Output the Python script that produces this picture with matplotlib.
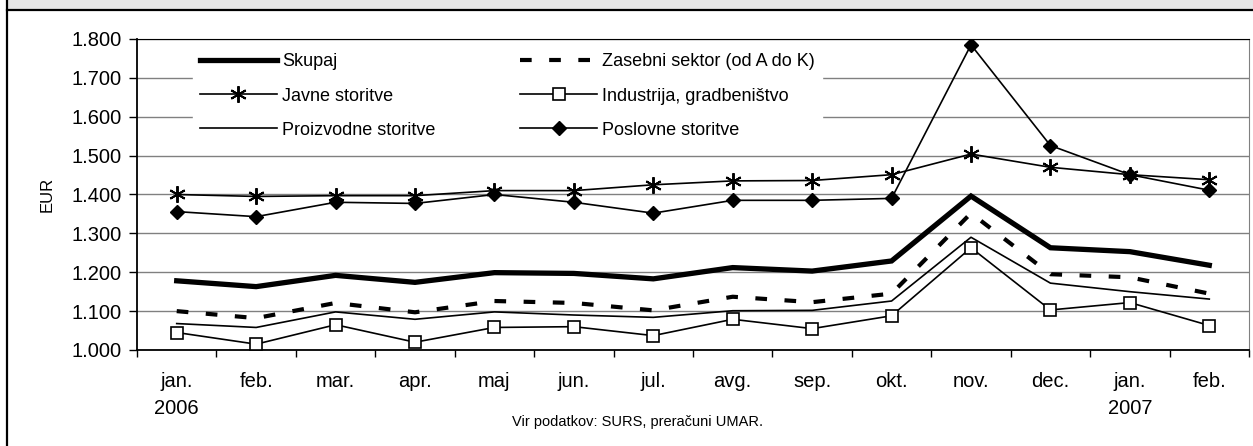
import matplotlib.pyplot as plt
from matplotlib.patches import Rectangle
from matplotlib.lines import Line2D
import numpy as np

# months on the x axis (Jan 2006 - Feb 2007)
months = ['jan.\n2006', 'feb.', 'mar.', 'apr.', 'maj', 'jun.', 'jul.', 'avg.',
          'sep.', 'okt.', 'nov.', 'dec.', 'jan.\n2007', 'feb.']

# average gross wage, EUR
skupaj = [1178, 1163, 1192, 1174, 1199, 1197, 1183, 1212, 1203, 1229, 1396, 1263, 1253, 1218]
zasebni = [1100, 1082, 1121, 1097, 1126, 1121, 1102, 1137, 1123, 1145, 1352, 1195, 1187, 1145]
javne = [1400, 1395, 1397, 1397, 1410, 1410, 1425, 1435, 1436, 1451, 1504, 1470, 1451, 1438]
industrija = [1045, 1015, 1065, 1020, 1058, 1060, 1037, 1079, 1055, 1088, 1263, 1103, 1122, 1063]
proizvodne = [1068, 1058, 1098, 1079, 1098, 1090, 1084, 1101, 1102, 1126, 1290, 1172, 1150, 1131]
poslovne = [1356, 1343, 1380, 1377, 1400, 1380, 1352, 1385, 1385, 1390, 1785, 1526, 1451, 1411]

y_ticks = [1000, 1100, 1200, 1300, 1400, 1500, 1600, 1700, 1800]

plt.rcParams['font.family'] = ['Liberation Sans', 'DejaVu Sans']

fig = plt.figure(figsize=(12.53, 4.46), dpi=100)
ax = fig.add_axes([137 / 1253, 96 / 446, 1112 / 1253, 311 / 446])

x = np.arange(len(months))

# series
ax.plot(x, skupaj, color='black', lw=3.8, solid_joinstyle='miter', label='Skupaj', zorder=3)
ax.plot(x, zasebni, color='black', lw=3.0, linestyle=(0, (2.8, 4.2)), dash_capstyle='butt',
        label='Zasebni sektor (od A do K)', zorder=3)
ax.plot(x, javne, color='black', lw=1.2, marker=(6, 2, 0), markersize=12, mew=1.4,
        label='Javne storitve', zorder=3)
ax.plot(x, industrija, color='black', lw=1.2, marker='s', markersize=8, mfc='white',
        mec='black', mew=1.2, label='Industrija, gradbeništvo', zorder=4)
ax.plot(x, proizvodne, color='black', lw=1.2, label='Proizvodne storitve', zorder=3)
ax.plot(x, poslovne, color='black', lw=1.2, marker='D', markersize=7.5,
        label='Poslovne storitve', zorder=4)

ax.set_xlim(-0.5, len(months) - 0.5)
ax.set_ylim(1000, 1800)

ax.set_yticks(y_ticks)
ax.set_yticklabels([f'{v:,}'.replace(',', '.') for v in y_ticks], fontsize=14.5)
ax.yaxis.grid(True, color='#808080', lw=1.0)
ax.set_axisbelow(True)

ax.set_xticks(x)
ax.set_xticklabels(months, fontsize=14.5)
for t in ax.get_xticklabels():
    t.set_linespacing(1.55)
ax.set_xticks(np.arange(-0.5, len(months)), minor=True)
ax.tick_params(axis='x', which='major', length=0, pad=16)
ax.tick_params(axis='x', which='minor', length=5, width=1, direction='out')
ax.tick_params(axis='y', length=6, width=1, pad=5)

for s in ['left', 'bottom', 'top']:
    ax.spines[s].set_color('black')
ax.spines['right'].set_color('#808080')
ax.spines['left'].set_linewidth(1.3)
ax.spines['bottom'].set_linewidth(1.3)

ax.set_ylabel('EUR', fontsize=12, labelpad=12)

# legend, two columns
h, l = ax.get_legend_handles_labels()
order = [0, 2, 4, 1, 3, 5]
leg = ax.legend([h[i] for i in order], [l[i] for i in order], ncol=2,
                loc='upper left', bbox_to_anchor=(0.05, 0.977), fontsize=13,
                frameon=True, fancybox=False, edgecolor='white', facecolor='white',
                framealpha=1, handlelength=4.25, handletextpad=0.3,
                columnspacing=4.7, labelspacing=0.95, borderpad=0.4, borderaxespad=0)
leg.set_zorder(5)

fig.text(638 / 1253, 1 - 422 / 446, 'Vir podatkov: SURS, preračuni UMAR.',
         fontsize=10.5, ha='center', va='center')

# frame pieces: grey title bar and left border
fig.patches.append(Rectangle((7 / 1253, 1 - 10 / 446), 1, 10 / 446, transform=fig.transFigure,
                             facecolor='#e6e6e6', edgecolor='none'))
fig.lines.append(Line2D([7 / 1253, 1], [1 - 10 / 446, 1 - 10 / 446], transform=fig.transFigure,
                        color='black', lw=1.6))
fig.lines.append(Line2D([7 / 1253, 7 / 1253], [0, 1], transform=fig.transFigure,
                        color='black', lw=1.6))

plt.savefig('out.png', dpi=100)
